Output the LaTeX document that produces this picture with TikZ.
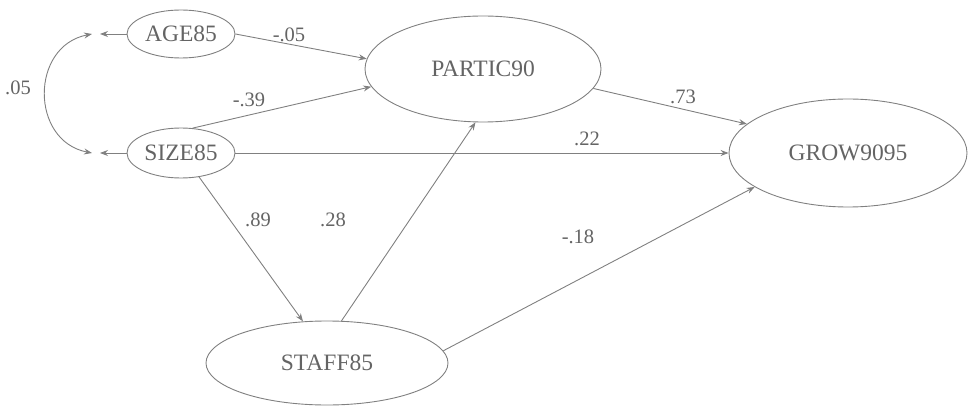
\documentclass[tikz,border=0pt]{standalone}
\usepackage{fontspec}
\setmainfont{Liberation Serif}
\usetikzlibrary{arrows.meta,shapes.geometric}
\definecolor{lc}{RGB}{128,128,128}
\definecolor{tc}{RGB}{100,100,100}
\begin{document}
\begin{tikzpicture}[x=1pt,y=-1pt,
  var/.style={ellipse,draw=lc,line width=0.9pt,inner sep=0pt,text=tc,font=\fontsize{23.5}{26}\selectfont},
  lab/.style={text=tc,font=\fontsize{20.5}{22}\selectfont,inner sep=0pt},
  path/.style={draw=lc,line width=0.9pt,-{Stealth[length=8pt,width=6pt]}}]
\useasboundingbox (0,0) rectangle (968,406);
% nodes
\node[var,minimum width=108pt,minimum height=48pt] (age) at (181,34) {AGE85};
\node[var,minimum width=108pt,minimum height=50pt] (size) at (181,153) {SIZE85};
\node[var,minimum width=236pt,minimum height=106pt] (partic) at (483,69) {PARTIC90};
\node[var,minimum width=238pt,minimum height=108pt] (grow) at (848,153) {GROW9095};
\node[var,minimum width=242pt,minimum height=84pt] (staff) at (327,363) {STAFF85};
% exogenous markers
\coordinate (ea) at (100,34);
\coordinate (es) at (100,153);
\coordinate (ca) at (92,34);
\coordinate (cs) at (92,153);
\draw[path] (age.west) -- (ea);
\draw[path] (size.west) -- (es);
\draw[draw=lc,line width=0.9pt,{Stealth[length=8pt,width=6pt]}-{Stealth[length=8pt,width=6pt]}]
  (ca) .. controls (30,46) and (30,141) .. (cs);
\node[lab] (l05) at (18,88) {.05};
% paths
\draw[path] (age.east) -- (partic.175);
\node[lab] (lab1) at (289,35) {-.05};
\draw[path] (size.65) -- (partic.189);
\node[lab] (lab2) at (249,100) {-.39};
\draw[path] (partic.-10) -- (grow.164);
\node[lab] (lab3) at (683,97) {.73};
\draw[path] (size.east) -- (grow.west);
\node[lab] (lab4) at (587,139) {.22};
\draw[path] (size.-53) -- (staff.120);
\node[lab] (lab5) at (258,220) {.89};
\draw[path] (staff.71) -- (partic.262);
\node[lab] (lab6) at (333,220) {.28};
\draw[path] (staff.6) -- (grow.200);
\node[lab] (lab7) at (578,237) {-.18};
\end{tikzpicture}
\end{document}
